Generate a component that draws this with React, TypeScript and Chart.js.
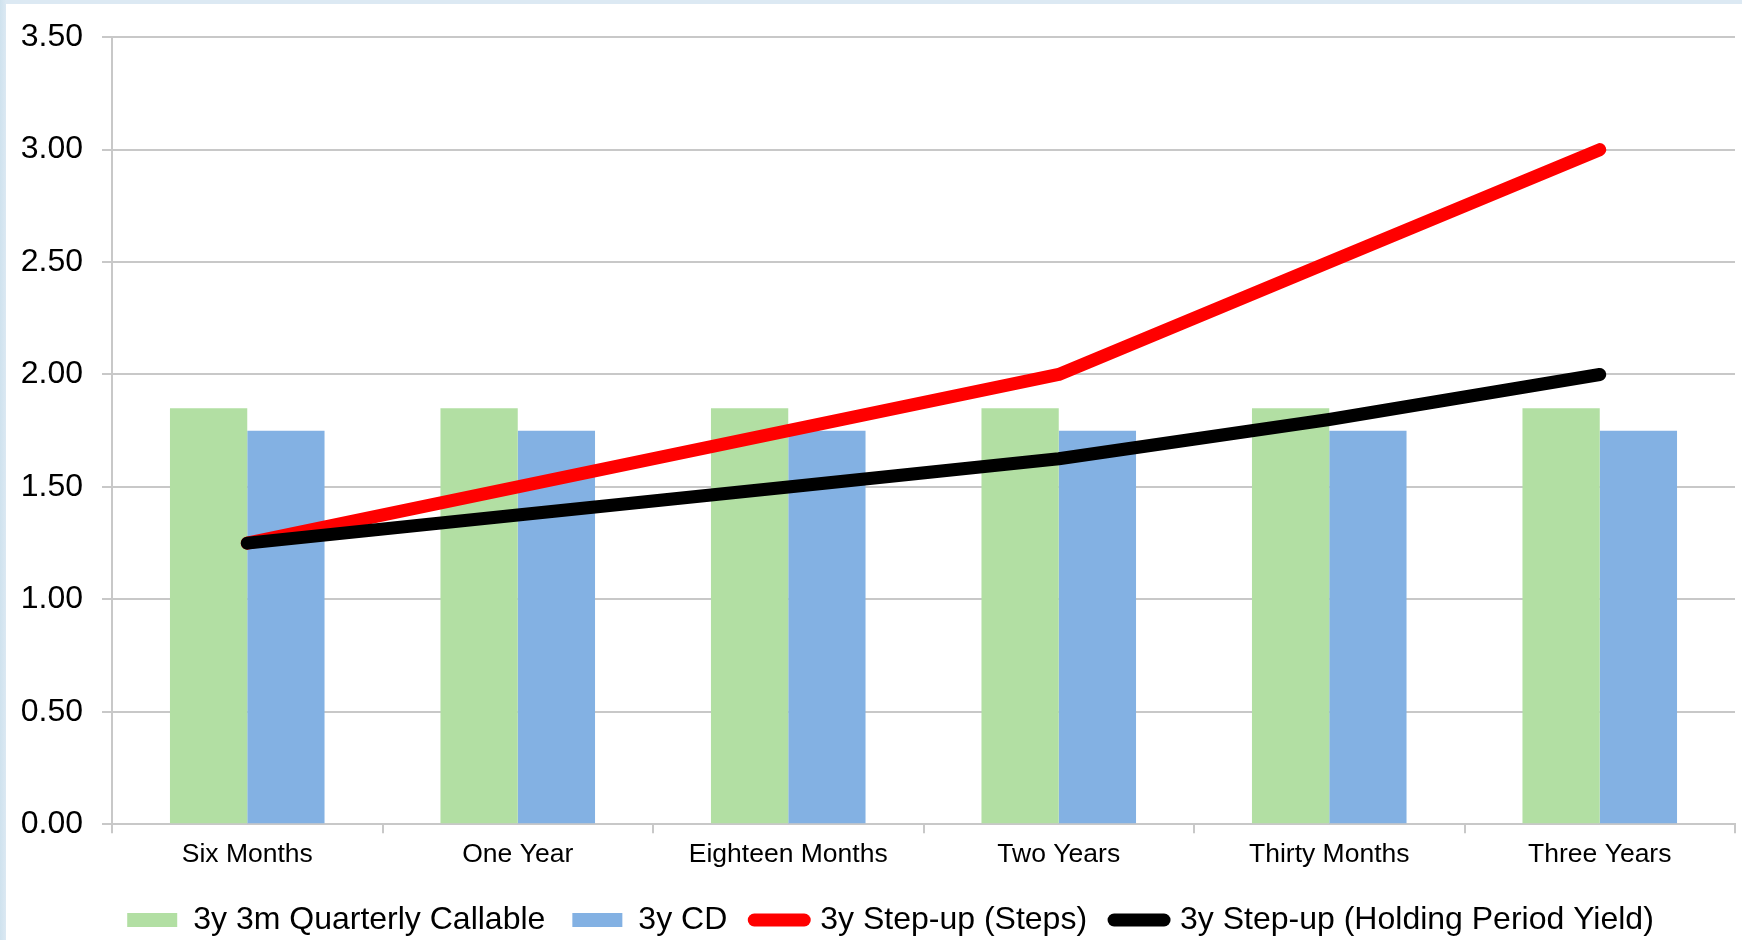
import React, { useEffect, useRef } from "react";
import { Chart, registerables } from "chart.js";

Chart.register(...registerables);

const categories = ["Six Months", "One Year", "Eighteen Months", "Two Years", "Thirty Months", "Three Years"];
const callableValues = [1.85, 1.85, 1.85, 1.85, 1.85, 1.85];
const cdValues = [1.75, 1.75, 1.75, 1.75, 1.75, 1.75];
const stepsValues = [1.25, 1.5, 1.75, 2.0, 2.5, 3.0];
const holdingYieldValues = [1.25, 1.375, 1.5, 1.625, 1.8, 2.0];
const seriesNames = [
  "3y 3m Quarterly Callable",
  "3y CD",
  "3y Step-up (Steps)",
  "3y Step-up (Holding Period Yield)",
];

const FONT = "'Liberation Sans', Arial, sans-serif";
const GRID = "#c8c8c8";

// nudges the legend row to the right of the canvas centre
const legendShift = {
  id: "legendShift",
  afterLayout(chart: any) {
    const lg = chart.legend;
    if (!lg) return;
    lg.left += 20;
    lg.right += 20;
    if (lg.legendHitBoxes) {
      lg.legendHitBoxes.forEach((h: any) => {
        h.left += 20;
      });
    }
  },
};

export default function App() {
  const canvasRef = useRef<HTMLCanvasElement | null>(null);

  useEffect(() => {
    const canvas = canvasRef.current;
    if (!canvas) return;
    Chart.defaults.font.family = FONT;
    Chart.defaults.color = "#000";

    const chart = new Chart(canvas, {
      type: "bar",
      plugins: [legendShift],
      data: {
        labels: categories,
        datasets: [
          {
            type: "bar",
            label: seriesNames[0],
            data: callableValues,
            backgroundColor: "#b2dfa3",
            borderWidth: 0,
            categoryPercentage: 0.5714,
            barPercentage: 1.0,
            pointStyle: "rect",
            order: 2,
          },
          {
            type: "bar",
            label: seriesNames[1],
            data: cdValues,
            backgroundColor: "#83b1e3",
            borderWidth: 0,
            categoryPercentage: 0.5714,
            barPercentage: 1.0,
            pointStyle: "rect",
            order: 3,
          },
          {
            type: "line",
            label: seriesNames[2],
            data: stepsValues,
            borderColor: "#ff0000",
            backgroundColor: "#ff0000",
            borderWidth: 13,
            borderCapStyle: "round",
            borderJoinStyle: "round",
            tension: 0,
            pointRadius: 0,
            pointHoverRadius: 0,
            pointStyle: "line",
            order: 1,
          },
          {
            type: "line",
            label: seriesNames[3],
            data: holdingYieldValues,
            borderColor: "#000000",
            backgroundColor: "#000000",
            borderWidth: 13,
            borderCapStyle: "round",
            borderJoinStyle: "round",
            tension: 0,
            pointRadius: 0,
            pointHoverRadius: 0,
            pointStyle: "line",
            order: 0,
          },
        ],
      },
      options: {
        responsive: false,
        animation: false,
        layout: { padding: { left: 0, right: 7, top: 8, bottom: 0 } },
        plugins: {
          tooltip: { enabled: false },
          legend: {
            position: "bottom",
            labels: {
              usePointStyle: true,
              pointStyleWidth: 50,
              boxWidth: 50,
              boxHeight: 14,
              padding: 27,
              color: "#000",
              font: { size: 32, family: FONT },
              generateLabels: (c: any) => {
                const items = Chart.defaults.plugins.legend.labels.generateLabels(c);
                items.forEach((it: any) => {
                  const ds: any = c.data.datasets[it.datasetIndex];
                  if (ds.type === "line") {
                    it.lineCap = "round";
                    it.lineWidth = 13;
                    it.strokeStyle = ds.borderColor;
                  } else {
                    it.lineWidth = 0;
                  }
                });
                return items.sort((a: any, b: any) => a.datasetIndex - b.datasetIndex);
              },
            },
          },
        },
        scales: {
          x: {
            grid: {
              display: true,
              drawOnChartArea: false,
              drawTicks: true,
              tickLength: 9,
              color: GRID,
              lineWidth: 2,
              offset: true,
            },
            border: { display: true, color: GRID, width: 2 },
            ticks: {
              color: "#000",
              font: { size: 26.5, family: FONT },
              padding: 6,
              maxRotation: 0,
              autoSkip: false,
            },
          },
          y: {
            min: 0,
            max: 3.5,
            afterFit: (s: any) => {
              s.width = 106;
            },
            grid: {
              color: GRID,
              lineWidth: 2,
              drawTicks: true,
              tickLength: 10,
            },
            border: { display: true, color: GRID, width: 2 },
            ticks: {
              stepSize: 0.5,
              color: "#000",
              font: { size: 32, family: FONT },
              padding: 19,
              callback: (v: any) => Number(v).toFixed(2),
            },
          },
        },
      },
    });

    return () => chart.destroy();
  }, []);

  return (
    <div
      style={{
        position: "fixed",
        left: 0,
        top: 0,
        width: 1742,
        height: 940,
        background: "linear-gradient(90deg, #cfe2ee 0px, #dce9f3 6px)",
        overflow: "hidden",
      }}
    >
      <div
        style={{
          position: "absolute",
          left: 6,
          top: 4,
          width: 1736,
          height: 936,
          background: "#ffffff",
          overflow: "hidden",
        }}
      >
        <canvas
          ref={canvasRef}
          width={1736}
          height={947}
          style={{ display: "block", marginTop: -5 }}
        />
      </div>
    </div>
  );
}
